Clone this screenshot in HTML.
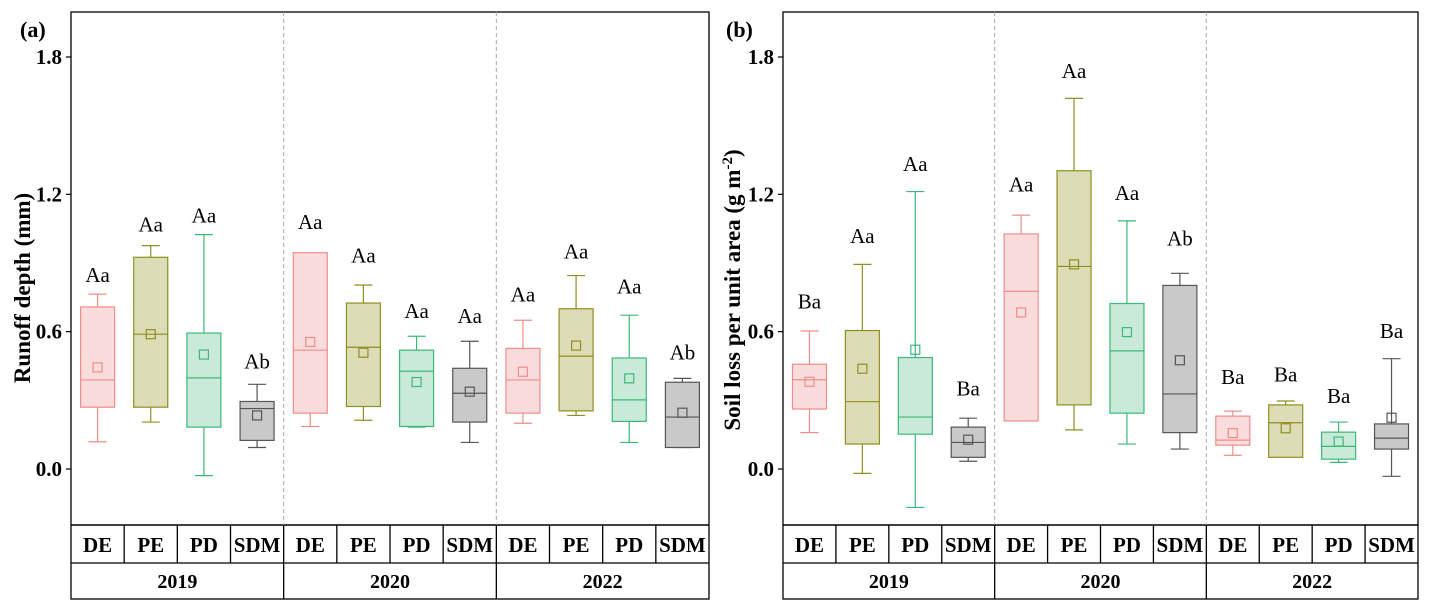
<!DOCTYPE html>
<html><head><meta charset="utf-8"><style>
html,body{margin:0;padding:0;background:#fff}
svg, svg text{font-family:"Liberation Serif","DejaVu Serif",serif}
</style></head><body>
<svg id="chart" width="1432" height="610" viewBox="0 0 1432 610" xmlns="http://www.w3.org/2000/svg" font-family="Liberation Serif, DejaVu Serif, serif"></svg>
<script>
const years = ["2019","2020","2022"];
const treatments = ["DE","PE","PD","SDM"];
const yTicks = [0.0,0.6,1.2,1.8];
// panel a: runoff depth (12 boxes in order year x treatment)
const aWhiskHigh = [0.764,0.976,1.024,0.370, 0.925,0.804,0.580,0.558, 0.650,0.845,0.672,0.396];
const aBoxTop    = [0.708,0.925,0.594,0.295, 0.945,0.725,0.519,0.440, 0.527,0.700,0.485,0.379];
const aMedian    = [0.389,0.589,0.398,0.264, 0.519,0.532,0.427,0.331, 0.389,0.493,0.302,0.227];
const aMean      = [0.444,0.589,0.500,0.234, 0.555,0.508,0.380,0.338, 0.425,0.539,0.396,0.246];
const aBoxBot    = [0.270,0.270,0.183,0.125, 0.244,0.273,0.186,0.205, 0.244,0.254,0.208,0.094];
const aWhiskLow  = [0.119,0.205,-0.029,0.094, 0.186,0.213,0.183,0.116, 0.200,0.234,0.116,0.094];
const aLetters   = ["Aa","Aa","Aa","Ab","Aa","Aa","Aa","Aa","Aa","Aa","Aa","Ab"];
const aLetterY   = [0.848,1.069,1.108,0.470, 1.080,0.932,0.690,0.669, 0.763,0.950,0.797,0.508];
// panel b: soil loss per unit area
const bWhiskHigh = [0.603,0.894,1.212,0.222, 1.109,1.619,1.084,0.855, 0.253,0.297,0.205,0.482];
const bBoxTop    = [0.458,0.605,0.487,0.183, 1.027,1.303,0.723,0.802, 0.231,0.280,0.161,0.197];
const bMedian    = [0.390,0.294,0.227,0.116, 0.776,0.885,0.516,0.328, 0.126,0.202,0.099,0.135];
const bMean      = [0.381,0.438,0.521,0.128, 0.684,0.894,0.598,0.475, 0.157,0.178,0.120,0.224];
const bBoxBot    = [0.262,0.109,0.152,0.051, 0.210,0.280,0.244,0.159, 0.104,0.051,0.043,0.087];
const bWhiskLow  = [0.159,-0.019,-0.168,0.034, 0.258,0.171,0.109,0.087, 0.060,0.060,0.029,-0.032];
const bLetters   = ["Ba","Aa","Aa","Ba","Aa","Aa","Aa","Ab","Ba","Ba","Ba","Ba"];
const bLetterY   = [0.732,1.019,1.332,0.352, 1.243,1.738,1.205,1.007, 0.402,0.412,0.320,0.603];

const strokes = ["#f08c8c","#8f8f1f","#3cb878","#555555"];
const fills   = ["#fbdcdc","#dcdcb6","#c9e9d9","#c9c9c9"];
const NS="http://www.w3.org/2000/svg";
const FF="Liberation Serif, DejaVu Serif, serif";
const svg=document.getElementById('chart');
function mk(tag,attrs,parent){const e=document.createElementNS(NS,tag);for(const k in attrs)e.setAttribute(k,attrs[k]);if(tag==='text')e.setAttribute('font-family',FF);(parent||svg).appendChild(e);return e;}
function yScale(v){return 469-(v)*228.9;}

function panel(cfg){
  const g=mk('g',{});
  
  
  const L=cfg.left,R=cfg.right,T=12,B=525,B2=563,B3=599;
  const cw=(R-L)/12;
  function xC(i){return L+cw*(i+0.5);}
  const fr=mk('rect',{x:L,y:T,width:R-L,height:B3-T,fill:'none',stroke:'#000','stroke-width':1.3},g);
  
  
  mk('line',{x1:L,x2:R,y1:B,y2:B,stroke:'#000','stroke-width':1.5},g);
  mk('line',{x1:L,x2:R,y1:B2,y2:B2,stroke:'#000','stroke-width':1.3},g);
  for(let i=1;i<12;i++){
    const x=L+cw*i;
    if(i%4===0){
      const d=mk('line',{x1:x,x2:x,y1:T,y2:B,stroke:'#aaa','stroke-width':1,'stroke-dasharray':'4,3'},g);
      
      
      mk('line',{x1:x,x2:x,y1:B,y2:B3,stroke:'#000','stroke-width':1.3},g);
    } else {
      mk('line',{x1:x,x2:x,y1:B,y2:B2,stroke:'#000','stroke-width':1.3},g);
    }
  }
  yTicks.forEach(v=>{
    const y=yScale(v);
    mk('line',{x1:L-5,x2:L,y1:y,y2:y,stroke:'#000','stroke-width':1.2},g);
    const t=mk('text',{x:L-9,y:y+7,'text-anchor':'end','font-size':21,'font-weight':'bold'},g);
    t.textContent=v.toFixed(1);
    
    
  });
  const yt=mk('text',{x:0,y:0,transform:`translate(${cfg.titleX},${cfg.titleY}) rotate(-90)`,'text-anchor':'middle','font-size':23,'font-weight':'bold'},g);
  yt.innerHTML=cfg.title;
  
  
  const pl=mk('text',{x:cfg.labelX,y:37,'font-size':22,'font-weight':'bold'},g);
  pl.textContent=cfg.panelLabel;
  
  
  const bw=34,cap=18;
  for(let i=0;i<12;i++){
    const tr=i%4, x=xC(i), s=strokes[tr], f=fills[tr];
    const bg=mk('g',{},g);
    
    
    const yh=yScale(cfg.wh[i]),yl=yScale(cfg.wl[i]),yt2=yScale(cfg.bt[i]),yb=yScale(cfg.bb[i]);
    mk('line',{x1:x,x2:x,y1:yh,y2:yt2,stroke:s,'stroke-width':1.2},bg);
    mk('line',{x1:x,x2:x,y1:yb,y2:yl,stroke:s,'stroke-width':1.2},bg);
    mk('line',{x1:x-cap/2,x2:x+cap/2,y1:yh,y2:yh,stroke:s,'stroke-width':1.2},bg);
    mk('line',{x1:x-cap/2,x2:x+cap/2,y1:yl,y2:yl,stroke:s,'stroke-width':1.2},bg);
    mk('rect',{x:x-bw/2,y:Math.min(yt2,yb),width:bw,height:Math.abs(yb-yt2),fill:f,stroke:s,'stroke-width':1.2},bg);
    const ym=yScale(cfg.md[i]);
    mk('line',{x1:x-bw/2,x2:x+bw/2,y1:ym,y2:ym,stroke:s,'stroke-width':1.2},bg);
    const yM=yScale(cfg.mn[i]);
    mk('rect',{x:x-4.5,y:yM-4.5,width:9,height:9,fill:'none',stroke:s,'stroke-width':1.2},bg);
    const lt=mk('text',{x:x,y:yScale(cfg.ly[i])+7,'text-anchor':'middle','font-size':21},g);
    lt.textContent=cfg.lt[i];
    
    
    const ct=mk('text',{x:x,y:552,'text-anchor':'middle','font-size':21,'font-weight':'bold'},g);
    ct.textContent=treatments[tr];
    
    
  }
  years.forEach((yr,j)=>{
    const t=mk('text',{x:L+cw*(4*j+2),y:588,'text-anchor':'middle','font-size':20,'font-weight':'bold'},g);
    t.textContent=yr;
    
    
  });
}
panel({name:'panel-a-runoff',left:71,right:709,title:'Runoff depth (mm)',titleX:30,titleY:288,labelX:20,panelLabel:'(a)',
  wh:aWhiskHigh,bt:aBoxTop,md:aMedian,mn:aMean,bb:aBoxBot,wl:aWhiskLow,lt:aLetters,ly:aLetterY});
panel({name:'panel-b-soil-loss',left:783,right:1418,title:'Soil loss per unit area (g m<tspan dy="-8" font-size="15">-2</tspan><tspan dy="8">)</tspan>',titleX:740,titleY:290,labelX:726,panelLabel:'(b)',
  wh:bWhiskHigh,bt:bBoxTop,md:bMedian,mn:bMean,bb:bBoxBot,wl:bWhiskLow,lt:bLetters,ly:bLetterY});
</script>
</body></html>
